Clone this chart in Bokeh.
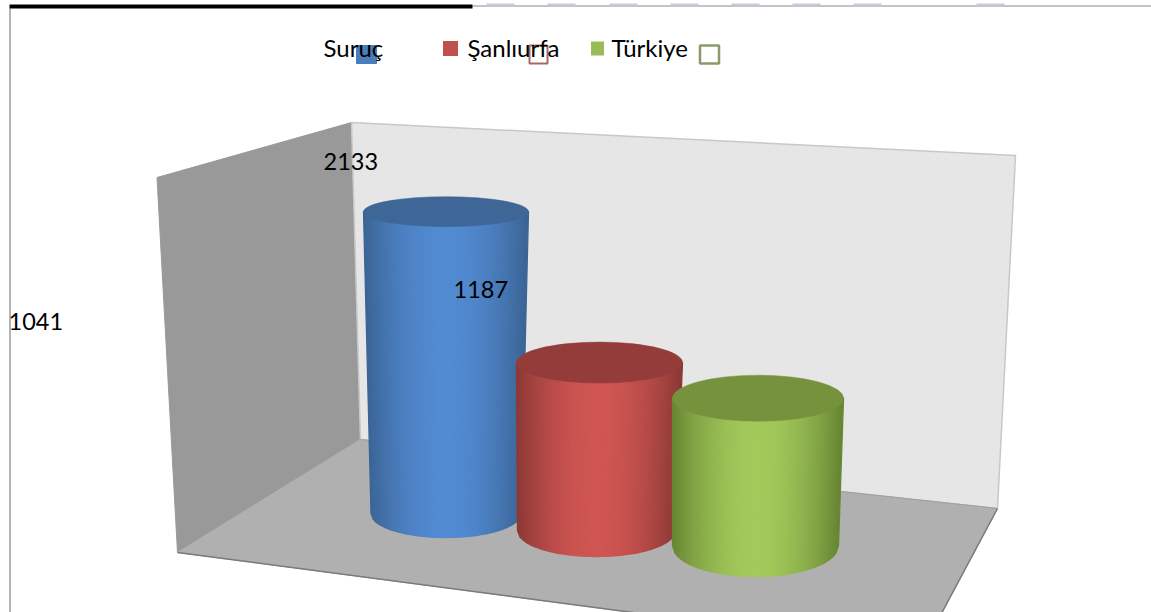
import math
from bokeh.plotting import figure
from bokeh.models import Range1d
from bokeh.core.properties import value
from bokeh.embed import file_html
from bokeh.resources import INLINE

# ---- chart data ----
categories = ["Suruç", "Şanlıurfa", "Türkiye"]
values = [2133, 1187, 1041]
value_labels = ["2133", "1187", "1041"]

# ---- colours ----
edge_colors = ["#3B6495", "#8A3835", "#668532"]
mid_colors = ["#528BD2", "#D05652", "#A3C95B"]
top_colors = ["#3E6797", "#933C3A", "#76923C"]
legend_colors = ["#4A7EBB", "#C0504D", "#9BBB59"]
hollow_colors = ["#4A7EBB", "#A56A68", "#8A9A6A"]

# ---- projected layout of the 3D scene (page pixels) ----
W, H = 1151, 612
PX_PER_UNIT = 0.1415
base_cx = [445.5, 596.0, 755.0]
base_cy = [513.0, 530.0, 545.0]
base_rx = [75.0, 79.0, 83.0]
base_ry = [24.0, 26.0, 31.0]
top_cx = [445.5, 599.0, 757.5]
top_rx = [82.5, 83.0, 85.5]
top_ry = [15.0, 20.5, 23.0]
rule_ticks = [486, 547, 609, 670, 731, 792, 853, 976]

p = figure(width=W, height=H, output_backend="svg", toolbar_location=None,
           x_range=Range1d(0, W), y_range=Range1d(H, 0),
           min_border=0, outline_line_color=None)
p.axis.visible = False
p.grid.visible = False
p.background_fill_color = "white"

# ---- walls and floor ----
p.patch([156.5, 351, 360, 177], [177, 122, 439, 552], fill_color="#999999", line_color="#999999", line_width=1)
p.patch([351, 1015, 997, 360], [122, 155, 508, 439], fill_color="#E6E6E6", line_color="#C8C8C8", line_width=1.5)
p.patch([360, 997, 934, 640, 177], [439, 508, 626, 613, 552], fill_color="#B0B0B0", line_color="#B0B0B0", line_width=1)
p.line([177, 640], [552, 613], line_color="#7A7A7A", line_width=1.5)
p.line([997, 934], [508, 626], line_color="#7A7A7A", line_width=1.5)
p.line([360, 997], [439, 508], line_color="#A0A0A0", line_width=1)


def mix(a, b, f):
    ca = [int(a[i:i + 2], 16) for i in (1, 3, 5)]
    cb = [int(b[i:i + 2], 16) for i in (1, 3, 5)]
    return "#%02x%02x%02x" % tuple(round(x + (y - x) * f) for x, y in zip(ca, cb))


# ---- cylinders: height comes from the value ----
N = 60
for i, v in enumerate(values):
    top_y = base_cy[i] - v * PX_PER_UNIT
    xs, ys, cols = [], [], []
    for k in range(N):
        u0, u1 = -1 + 2 * k / N, -1 + 2 * (k + 1) / N
        um = (u0 + u1) / 2
        shade = max(0.0, 1 - abs(um) ** 1.9)
        cols.append(mix(edge_colors[i], mid_colors[i], shade))
        xs.append([top_cx[i] + top_rx[i] * u0, top_cx[i] + top_rx[i] * u1,
                   base_cx[i] + base_rx[i] * u1, base_cx[i] + base_rx[i] * u0])
        ys.append([top_y, top_y,
                   base_cy[i] + base_ry[i] * math.sqrt(max(0, 1 - u1 * u1)),
                   base_cy[i] + base_ry[i] * math.sqrt(max(0, 1 - u0 * u0))])
    p.patches(xs, ys, fill_color=cols, line_color=cols, line_width=1.3)
    p.ellipse([top_cx[i]], [top_y], width=2 * top_rx[i], height=2 * top_ry[i],
              fill_color=top_colors[i], line_color=top_colors[i], line_width=0.5)

# ---- page rules cut off at the top of the picture ----
p.line([9.5, 9.5], [8, 612], line_color="#B4B4B4", line_width=2)
p.line([472, 1151], [5.5, 5.5], line_color="#8A8A8A", line_width=1)
p.segment(rule_ticks, [4] * len(rule_ticks), [t + 28 for t in rule_ticks], [4] * len(rule_ticks),
          line_color="#C8C8E6", line_width=2)
p.line([9, 472], [6, 6], line_color="black", line_width=4)

# ---- legend ----
FONT = value("Lato")
p.rect([366], [54], width=20, height=18, fill_color=legend_colors[0], line_color=legend_colors[0])
p.rect([450], [48], width=15, height=15, fill_color=legend_colors[1], line_color=None)
p.rect([597], [48], width=13, height=14, fill_color=legend_colors[2], line_color=None)
p.rect([538], [54], width=18, height=18, fill_color=None, line_color=hollow_colors[1], line_width=2)
p.rect([709], [54], width=19, height=18, fill_color=None, line_color=hollow_colors[2], line_width=2.5)
p.text([323, 467, 611], [47, 47, 47], text=categories, text_font=FONT, text_font_size="24px",
       text_color="black", text_align="left", text_baseline="middle")

# ---- value labels ----
p.text([323, 453, 8], [161, 289, 321], text=value_labels, text_font=FONT, text_font_size="23.5px",
       text_color="black", text_align="left", text_baseline="middle")

open("out.html", "w").write(file_html(p, INLINE))
